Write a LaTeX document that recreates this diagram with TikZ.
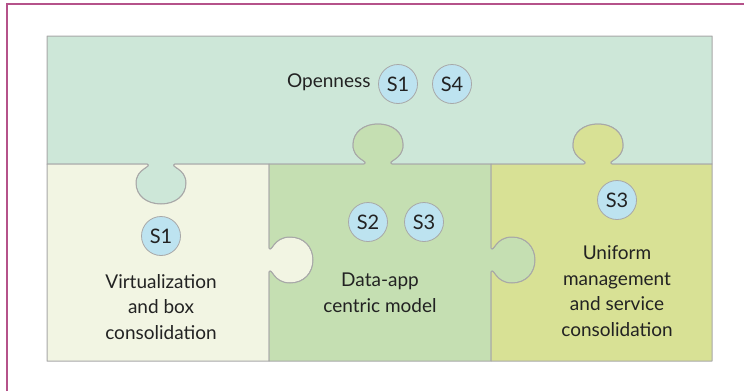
\documentclass[tikz,border=0pt]{standalone}
\usepackage{fontspec}
\setmainfont{Lato}
\definecolor{frame}{HTML}{B5528A}
\definecolor{edge}{HTML}{A8A8A8}
\definecolor{ctop}{HTML}{CDE7D8}
\definecolor{cone}{HTML}{F2F5E3}
\definecolor{ctwo}{HTML}{C5DFB2}
\definecolor{cthree}{HTML}{D8E195}
\definecolor{cball}{HTML}{BDE3F0}
\definecolor{ink}{HTML}{222222}
\newcommand\htabLR[3]{-- ({#1-14},#2) .. controls ({#1-8},{#2+3*(#3)}) and ({#1-25},{#2+4*(#3)}) .. ({#1-25},{#2+19*(#3)}) .. controls ({#1-25},{#2+32*(#3)}) and ({#1-14},{#2+40*(#3)}) .. (#1,{#2+40*(#3)}) .. controls ({#1+14},{#2+40*(#3)}) and ({#1+25},{#2+32*(#3)}) .. ({#1+25},{#2+19*(#3)}) .. controls ({#1+25},{#2+4*(#3)}) and ({#1+8},{#2+3*(#3)}) .. ({#1+14},#2)}
\newcommand\htabRL[3]{-- ({#1+14},#2) .. controls ({#1+8},{#2+3*(#3)}) and ({#1+25},{#2+4*(#3)}) .. ({#1+25},{#2+19*(#3)}) .. controls ({#1+25},{#2+32*(#3)}) and ({#1+14},{#2+40*(#3)}) .. (#1,{#2+40*(#3)}) .. controls ({#1-14},{#2+40*(#3)}) and ({#1-25},{#2+32*(#3)}) .. ({#1-25},{#2+19*(#3)}) .. controls ({#1-25},{#2+4*(#3)}) and ({#1-8},{#2+3*(#3)}) .. ({#1-14},#2)}
\newcommand\vtabTB[3]{-- (#2,{#1-12}) .. controls ({#2+3*(#3)},{#1-7}) and ({#2+4*(#3)},{#1-23}) .. ({#2+21*(#3)},{#1-23}) .. controls ({#2+35*(#3)},{#1-23}) and ({#2+44*(#3)},{#1-13}) .. ({#2+44*(#3)},#1) .. controls ({#2+44*(#3)},{#1+13}) and ({#2+35*(#3)},{#1+23}) .. ({#2+21*(#3)},{#1+23}) .. controls ({#2+4*(#3)},{#1+23}) and ({#2+3*(#3)},{#1+7}) .. (#2,{#1+12})}
\newcommand\vtabBT[3]{-- (#2,{#1+12}) .. controls ({#2+3*(#3)},{#1+7}) and ({#2+4*(#3)},{#1+23}) .. ({#2+21*(#3)},{#1+23}) .. controls ({#2+35*(#3)},{#1+23}) and ({#2+44*(#3)},{#1+13}) .. ({#2+44*(#3)},#1) .. controls ({#2+44*(#3)},{#1-13}) and ({#2+35*(#3)},{#1-23}) .. ({#2+21*(#3)},{#1-23}) .. controls ({#2+4*(#3)},{#1-23}) and ({#2+3*(#3)},{#1-7}) .. (#2,{#1-12})}
\tikzset{
  piece/.style={draw=edge, line width=1pt, line join=round},
  ball/.style={circle, draw=edge, line width=0.8pt, fill=cball, minimum size=39pt, inner sep=0pt, font=\fontsize{20}{20}\selectfont, text=ink},
  label/.style={align=center, text=ink, font=\fontsize{19}{25.5}\selectfont},
}
\begin{document}
\begin{tikzpicture}[x=1pt,y=-1pt]
\useasboundingbox (0,0) rectangle (744,391);
\draw[frame, line width=1.5pt] (7,391) -- (7,4) -- (744,4);
% top piece
\path[piece, fill=ctop] (47,36) -- (712,36) -- (712,164) \htabRL{598}{164}{-1} \htabRL{378}{164}{-1} \htabRL{161}{164}{1} -- (47,164) -- cycle;
% piece 1
\path[piece, fill=cone] (47,164) \htabLR{161}{164}{1} -- (269,164) \vtabTB{260}{269}{1} -- (269,361) -- (47,361) -- cycle;
% piece 2
\path[piece, fill=ctwo] (269,164) \htabLR{378}{164}{-1} -- (491,164) \vtabTB{260}{491}{1} -- (491,361) -- (269,361) \vtabBT{260}{269}{1} -- cycle;
% piece 3
\path[piece, fill=cthree] (491,164) \htabLR{598}{164}{-1} -- (712,164) -- (712,361) -- (491,361) \vtabBT{260}{491}{1} -- cycle;
% texts
\node[label, anchor=east] (open) at (374,82) {Openness};
\node[ball] (o1) at (398,84) {S1};
\node[ball] (o4) at (452,84) {S4};
\node[ball] (v1) at (161,236) {S1};
\node[label] (virt) at (161,307) {Virtualization\\and box\\consolidation};
\node[ball] (d2) at (368,222) {S2};
\node[ball] (d3) at (424,222) {S3};
\node[label] (data) at (380,293) {Data-app\\centric model};
\node[ball] (u3) at (617,200) {S3};
\node[label] (unif) at (617,291) {Uniform\\management\\and service\\consolidation};
\end{tikzpicture}
\end{document}
